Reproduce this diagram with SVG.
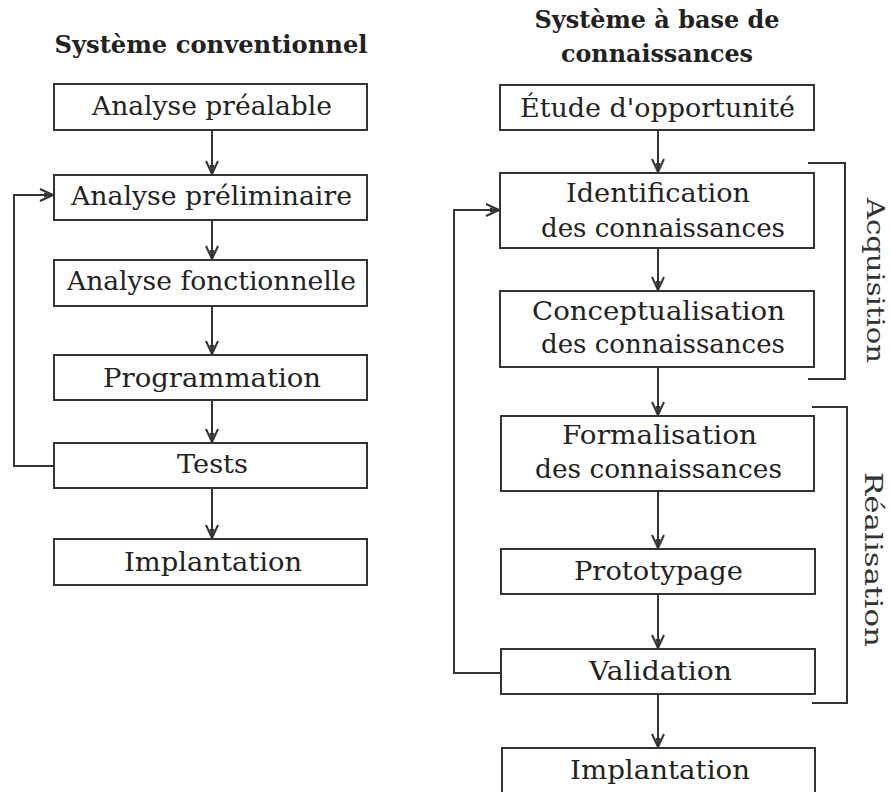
<svg xmlns="http://www.w3.org/2000/svg" width="891" height="792" viewBox="0 0 891 792">
  <style>
    .box { fill: #fff; stroke: #333; stroke-width: 2; }
    .lbl { font-family: "DejaVu Serif", "Liberation Serif", serif; font-size: 26px; fill: #222; text-anchor: middle; }
    .ttl { font-family: "DejaVu Serif", "Liberation Serif", serif; font-size: 24px; font-weight: bold; fill: #222; text-anchor: middle; }
    .side { font-family: "DejaVu Serif", "Liberation Serif", serif; font-size: 24px; fill: #333; text-anchor: middle; }
    .wire { fill: none; stroke: #333; stroke-width: 2; }
    .brk { fill: none; stroke: #333; stroke-width: 2; }
  </style>
  <defs>
    <!-- barbed arrowhead drawn along +x, tip at the origin -->
    <marker id="arr" markerUnits="userSpaceOnUse" viewBox="-15 -8 17 16" refX="0" refY="0" markerWidth="17" markerHeight="16" orient="auto">
      <path d="M-13,-6 L0,0 L-13,6" fill="none" stroke="#333" stroke-width="2"/>
      <path d="M-9,-2.5 L0,0 L-9,2.5 Z" fill="#333"/>
    </marker>
  </defs>
  <rect width="891" height="792" fill="#fff"/>

  <!-- column titles -->
  <text class="ttl" x="211" y="53" textLength="313" lengthAdjust="spacingAndGlyphs">Système conventionnel</text>
  <text class="ttl" x="657" y="28" textLength="245" lengthAdjust="spacingAndGlyphs">Système à base de</text>
  <text class="ttl" x="657" y="62" textLength="192" lengthAdjust="spacingAndGlyphs">connaissances</text>

  <!-- connectors -->
  <g id="connectors">
    <path class="wire" d="M212,130 V174" marker-end="url(#arr)"/>
    <path class="wire" d="M212,220 V259" marker-end="url(#arr)"/>
    <path class="wire" d="M212,306 V354" marker-end="url(#arr)"/>
    <path class="wire" d="M212,400 V442" marker-end="url(#arr)"/>
    <path class="wire" d="M212,488 V538" marker-end="url(#arr)"/>
    <path class="wire" d="M54,466 H14 V195 H53" marker-end="url(#arr)"/>

    <path class="wire" d="M658,130 V172" marker-end="url(#arr)"/>
    <path class="wire" d="M658,248 V290" marker-end="url(#arr)"/>
    <path class="wire" d="M658,367 V415" marker-end="url(#arr)"/>
    <path class="wire" d="M658,491 V548" marker-end="url(#arr)"/>
    <path class="wire" d="M658,594 V648" marker-end="url(#arr)"/>
    <path class="wire" d="M658,694 V747" marker-end="url(#arr)"/>
    <path class="wire" d="M500,673 H454 V210 H499" marker-end="url(#arr)"/>
  </g>

  <!-- left column: conventional system -->
  <g id="c-analyse-prealable">
    <rect class="box" x="54" y="84" width="313" height="46"/>
    <text class="lbl" x="212" y="115" textLength="240" lengthAdjust="spacingAndGlyphs">Analyse préalable</text>
  </g>
  <g id="c-analyse-preliminaire">
    <rect class="box" x="54" y="175" width="313" height="45"/>
    <text class="lbl" x="211.5" y="205" textLength="281" lengthAdjust="spacingAndGlyphs">Analyse préliminaire</text>
  </g>
  <g id="c-analyse-fonctionnelle">
    <rect class="box" x="54" y="260" width="313" height="46"/>
    <text class="lbl" x="211.5" y="290" textLength="289" lengthAdjust="spacingAndGlyphs">Analyse fonctionnelle</text>
  </g>
  <g id="c-programmation">
    <rect class="box" x="54" y="355" width="313" height="45"/>
    <text class="lbl" x="212" y="387" textLength="218" lengthAdjust="spacingAndGlyphs">Programmation</text>
  </g>
  <g id="c-tests">
    <rect class="box" x="54" y="443" width="313" height="45"/>
    <text class="lbl" x="212.5" y="473" textLength="71" lengthAdjust="spacingAndGlyphs">Tests</text>
  </g>
  <g id="c-implantation">
    <rect class="box" x="54" y="539" width="313" height="46"/>
    <text class="lbl" x="213" y="571" textLength="178" lengthAdjust="spacingAndGlyphs">Implantation</text>
  </g>

  <!-- right column: knowledge-based system -->
  <g id="k-etude">
    <rect class="box" x="500" y="85" width="314" height="45"/>
    <text class="lbl" x="657.5" y="117" textLength="275" lengthAdjust="spacingAndGlyphs">Étude d'opportunité</text>
  </g>
  <g id="k-identification">
    <rect class="box" x="500" y="173" width="314" height="75"/>
    <text class="lbl" x="658" y="202" textLength="184" lengthAdjust="spacingAndGlyphs">Identification</text>
    <text class="lbl" x="663" y="237" textLength="244" lengthAdjust="spacingAndGlyphs">des connaissances</text>
  </g>
  <g id="k-conceptualisation">
    <rect class="box" x="500" y="291" width="314" height="76"/>
    <text class="lbl" x="658.5" y="320" textLength="253" lengthAdjust="spacingAndGlyphs">Conceptualisation</text>
    <text class="lbl" x="663" y="353" textLength="244" lengthAdjust="spacingAndGlyphs">des connaissances</text>
  </g>
  <g id="k-formalisation">
    <rect class="box" x="501" y="416" width="313" height="75"/>
    <text class="lbl" x="659.5" y="444" textLength="195" lengthAdjust="spacingAndGlyphs">Formalisation</text>
    <text class="lbl" x="658.5" y="478" textLength="247" lengthAdjust="spacingAndGlyphs">des connaissances</text>
  </g>
  <g id="k-prototypage">
    <rect class="box" x="501" y="549" width="314" height="45"/>
    <text class="lbl" x="658.5" y="580" textLength="169" lengthAdjust="spacingAndGlyphs">Prototypage</text>
  </g>
  <g id="k-validation">
    <rect class="box" x="501" y="649" width="314" height="45"/>
    <text class="lbl" x="660.5" y="680" textLength="143" lengthAdjust="spacingAndGlyphs">Validation</text>
  </g>
  <g id="k-implantation">
    <rect class="box" x="502" y="748" width="313" height="46"/>
    <text class="lbl" x="660" y="779" textLength="180" lengthAdjust="spacingAndGlyphs">Implantation</text>
  </g>

  <!-- phase brackets -->
  <g id="phase-acquisition">
    <path class="brk" d="M808,163 H845 V379 H808"/>
    <text class="side" transform="translate(867,280.5) rotate(90)" textLength="165" lengthAdjust="spacingAndGlyphs">Acquisition</text>
  </g>
  <g id="phase-realisation">
    <path class="brk" d="M812,407 H847 V703 H812"/>
    <text class="side" transform="translate(865,559.5) rotate(90)" textLength="175" lengthAdjust="spacingAndGlyphs">Réalisation</text>
  </g>
</svg>
